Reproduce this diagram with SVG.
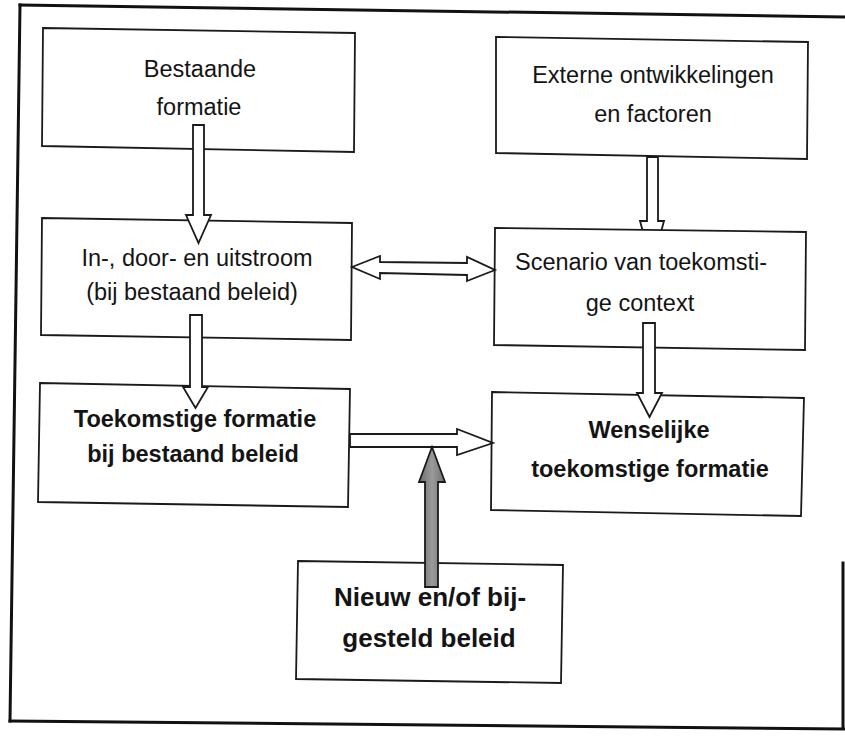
<svg xmlns="http://www.w3.org/2000/svg" width="845" height="736" viewBox="0 0 845 736">
<style>
.frame{fill:none;stroke:#111;stroke-width:3;stroke-linecap:square}
.box{fill:#fff;stroke:#1a1a1a;stroke-width:1.8;stroke-linejoin:miter}
.arrow{fill:#fff;stroke:#1a1a1a;stroke-width:1.8;stroke-linejoin:miter}
.gray{fill:url(#grayfill);stroke:#1a1a1a;stroke-width:1.8}
text{font-family:"Liberation Sans",Arial,sans-serif;fill:#141414;text-anchor:middle}
.n{font-size:23.5px}
.b{font-size:23.5px;font-weight:bold}
.bl{font-size:26px;font-weight:bold}
</style>
<defs>
<linearGradient id="grayfill" x1="0" y1="0" x2="1" y2="0">
<stop offset="0" stop-color="#6e6e6e"/>
<stop offset="0.5" stop-color="#9a9a9a"/>
<stop offset="1" stop-color="#707070"/>
</linearGradient>
</defs>
<rect width="845" height="736" fill="#fff"/>
<g id="frame">
<path class="frame" d="M20,5 L845,17"/>
<path class="frame" d="M20,5 L10,721"/>
<path class="frame" d="M10,721 L845,729"/>
<path class="frame" d="M843,563 L843,728"/>
</g>
<g id="connector-behind">
<polygon class="arrow" points="647,157 658,157 658,221 664,221 661,232 643,232 640,221 647,221"/>
</g>
<g id="node-bestaande">
<polygon class="box" points="43,28 355,33 354,152 42,146"/>
<text class="n" x="200" y="77">Bestaande</text>
<text class="n" x="199" y="115">formatie</text>
</g>
<g id="node-instroom">
<polygon class="box" points="42,218 352,223 351,340 41,335"/>
<text class="n" x="197" y="266">In-, door- en uitstroom</text>
<text class="n" x="192" y="300">(bij bestaand beleid)</text>
</g>
<g id="node-toekomstig">
<polygon class="box" points="40,383 350,389 348,507 38,502"/>
<text class="b" x="195" y="427">Toekomstige formatie</text>
<text class="b" x="193" y="462">bij bestaand beleid</text>
</g>
<g id="node-extern">
<polygon class="box" points="496,37 808,42 807,159 496,153"/>
<text class="n" x="653" y="83">Externe ontwikkelingen</text>
<text class="n" x="653" y="122">en factoren</text>
</g>
<g id="node-scenario">
<polygon class="box" points="495,228 806,232 805,350 494,345"/>
<text class="n" x="641" y="270">Scenario van toekomsti-</text>
<text class="n" x="640" y="311">ge context</text>
</g>
<g id="node-wenselijk">
<polygon class="box" points="492,392 804,398 801,516 491,510"/>
<text class="b" x="649" y="438">Wenselijke</text>
<text class="b" x="650" y="477">toekomstige formatie</text>
</g>
<g id="node-nieuw">
<polygon class="box" points="298,561 563,565 561,683 296,679"/>
<text class="bl" x="430" y="606">Nieuw en/of bij-</text>
<text class="bl" x="429" y="647">gesteld beleid</text>
</g>
<g id="connectors">
<polygon class="arrow" points="193,125 204,125 204,215 211,215 198.5,243 186,215 193,215"/>
<polygon class="arrow" points="190,315 202,315 202,387 208,387 195.5,408 183,387 190,387"/>
<polygon class="arrow" points="643,323 655,323 655,393 662,393 649.5,417 637,393 643,393"/>
<polygon class="arrow" points="352,267 380,256 380,262 467,263 467,257 495,270 467,281 467,275 380,273 380,279"/>
<polygon class="arrow" points="350,434 457,434 457,429 493,443 457,455 457,447 350,447"/>
<polygon class="gray" points="425,587 438,587 438,482 445,482 432,447 419,482 425,482"/>
</g>
</svg>
